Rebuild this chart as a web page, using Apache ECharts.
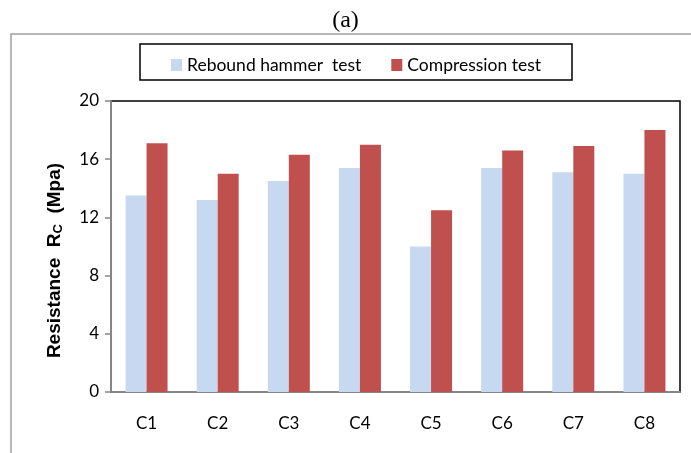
<!DOCTYPE html>
<html>
<head>
<meta charset="utf-8">
<script src="https://cdn.jsdelivr.net/npm/echarts@6/dist/echarts.min.js"></script>
<style>
  html, body { margin: 0; padding: 0; background: #fff; }
  #chart { width: 691px; height: 453px; }
</style>
</head>
<body>
<div id="chart"></div>
<script>
var categories = ['C1', 'C2', 'C3', 'C4', 'C5', 'C6', 'C7', 'C8'];
var reboundHammer = [13.5, 13.2, 14.5, 15.4, 10.0, 15.4, 15.1, 15.0];
var compression = [17.1, 15.0, 16.3, 17.0, 12.5, 16.6, 16.9, 18.0];
var seriesNames = ['Rebound hammer  test', 'Compression test'];

var font = 'Lato, "Noto Sans", sans-serif';
var boldFont = '"Liberation Sans", Arial, sans-serif';
var chart = echarts.init(document.getElementById('chart'));

chart.setOption({
  animation: false,
  backgroundColor: '#fff',
  title: {
    text: '(a)',
    left: 'center',
    top: 4,
    textStyle: { fontFamily: '"Liberation Serif", serif', fontWeight: 'normal', fontSize: 24, color: '#000' }
  },
  graphic: [
    // outer frame
    { type: 'rect', shape: { x: 11, y: 34, width: 700, height: 440 },
      style: { fill: 'none', stroke: '#a0a0a0', lineWidth: 1.5 }, silent: true },
    // legend box
    { type: 'rect', shape: { x: 140, y: 44, width: 432, height: 36 },
      style: { fill: 'none', stroke: '#000', lineWidth: 1.5 }, silent: true }
  ],
  legend: {
    data: seriesNames,
    left: 166,
    top: 51,
    itemWidth: 11,
    itemHeight: 12,
    itemGap: 30,
    icon: 'rect',
    textStyle: { fontFamily: font, fontSize: 17.5, color: '#000' }
  },
  grid: {
    left: 111, top: 101, right: 11, bottom: 61,
    show: true, borderColor: '#000', borderWidth: 1.5
  },
  xAxis: {
    type: 'category',
    data: categories,
    axisLine: { lineStyle: { color: '#868686', width: 2 } },
    axisTick: { length: 6, lineStyle: { color: '#868686', width: 1.5 } },
    axisLabel: { fontFamily: font, fontSize: 17, color: '#000', margin: 23 }
  },
  yAxis: {
    type: 'value',
    min: 0, max: 20, interval: 4,
    name: '{b|Resistance  R}{sub|C}{b|  (Mpa)}',
    nameLocation: 'middle',
    nameGap: 46,
    nameTextStyle: {
      padding: [0, 28, 0, 0],
      rich: {
        b: { fontFamily: boldFont, fontSize: 19, fontWeight: 'bold', color: '#000' },
        sub: { fontFamily: boldFont, fontSize: 13, fontWeight: 'bold', color: '#000', verticalAlign: 'bottom', padding: [7, 0, 0, 0] }
      }
    },
    splitLine: { show: false },
    axisLine: { show: true, lineStyle: { color: '#868686', width: 2 } },
    axisTick: { show: true, length: 6, lineStyle: { color: '#868686', width: 1.5 } },
    axisLabel: { fontFamily: font, fontSize: 17, color: '#000', margin: 12 }
  },
  series: [
    { name: seriesNames[0], type: 'bar', data: reboundHammer, barWidth: 21, barGap: '0%',
      itemStyle: { color: '#C6D9F1' } },
    { name: seriesNames[1], type: 'bar', data: compression, barWidth: 21, barGap: '0%',
      itemStyle: { color: '#C0504D' } }
  ]
});
</script>
</body>
</html>
